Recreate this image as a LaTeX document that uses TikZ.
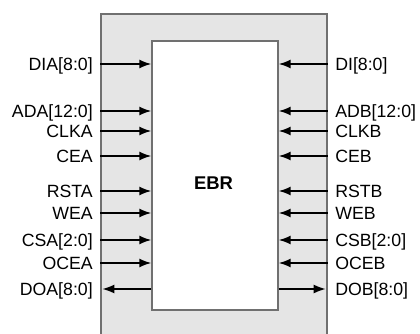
\documentclass[tikz,border=0pt]{standalone}
\usepackage{fontspec}
\setmainfont{Liberation Sans}
\usetikzlibrary{arrows.meta}

\begin{document}
\begin{tikzpicture}[x=0.025cm, y=-0.025cm,
  bloco/.style={draw=black!56, line width=1pt, inner sep=0pt},
  rotulo/.style={inner sep=0pt, text height=9.5pt, text depth=0.5pt, font=\fontsize{12.6pt}{14pt}\selectfont},
  pino/.style={-{Latex[length=8.5pt, width=6.4pt]}, line width=1.1pt}
]
\clip (0,0) rectangle (420,334);
\node[bloco, fill=black!10, minimum width=5.65cm, minimum height=8.65cm] (moldura) at (214,187) {};
\node[bloco, fill=white, minimum width=3.15cm, minimum height=6.725cm] (ebr) at (215,175.5) {};
\node[font=\bfseries\fontsize{13.1pt}{15pt}\selectfont] (ebrtexto) at (213.5,183.5) {EBR};
% porta A (entradas)
\foreach \y/\nome [count=\i] in {64/{DIA[8:0]}, 111/{ADA[12:0]}, 131/CLKA, 156/CEA, 191/RSTA, 213/WEA, 240/{CSA[2:0]}, 263/OCEA}
{
  \node[rotulo, anchor=east] (esq\i) at (93,\y) {\nome};
  \draw[pino] (moldura.west |- esq\i) -- (ebr.west |- esq\i);
}
% porta B (entradas)
\foreach \y/\nome [count=\i] in {64/{DI[8:0]}, 111/{ADB[12:0]}, 131/CLKB, 156/CEB, 191/RSTB, 213/WEB, 240/{CSB[2:0]}, 263/OCEB}
{
  \node[rotulo, anchor=west] (dir\i) at (335,\y) {\nome};
  \draw[pino] (moldura.east |- dir\i) -- (ebr.east |- dir\i);
}
% saidas
\node[rotulo, anchor=east] (doa) at (93,289) {DOA[8:0]};
\node[rotulo, anchor=west] (dob) at (335,289) {DOB[8:0]};
\draw[pino, shorten >=1.5pt] (ebr.west |- doa) -- (moldura.west |- doa);
\draw[pino, shorten >=1.5pt] (ebr.east |- dob) -- (moldura.east |- dob);
\end{tikzpicture}
\end{document}
